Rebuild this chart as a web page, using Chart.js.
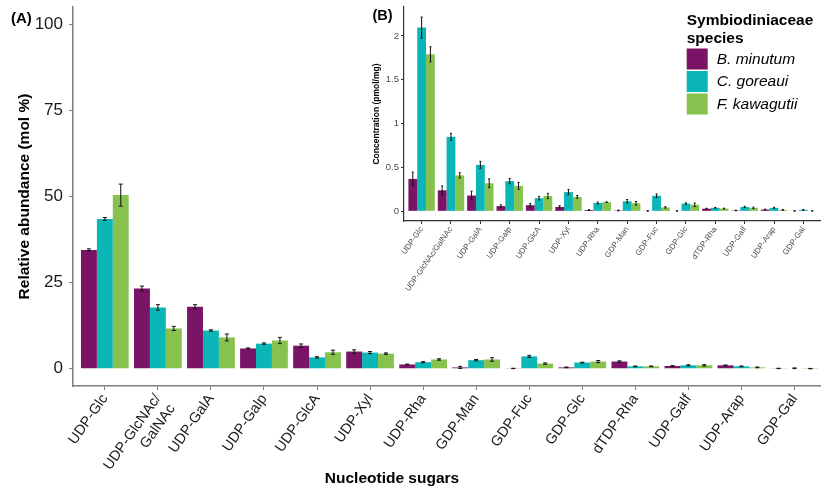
<!DOCTYPE html>
<html><head><meta charset="utf-8">
<script src="https://cdn.jsdelivr.net/npm/chart.js@4.4.0/dist/chart.umd.min.js"></script>
<style>
html,body{margin:0;padding:0;background:#fff;}
#wrap{position:relative;width:821px;height:488px;overflow:hidden;background:#fff;}
#main{position:absolute;left:0;top:0;}
#ins{position:absolute;left:360px;top:0;}
</style></head><body>
<div id="wrap">
<canvas id="main" width="821" height="488"></canvas>
<canvas id="ins" width="461" height="305"></canvas>
</div>
<script>
// ---- data ----
const categoriesMain = ['UDP-Glc', ['UDP-GlcNAc/', 'GalNAc'], 'UDP-GalA', 'UDP-Galp', 'UDP-GlcA', 'UDP-Xyl', 'UDP-Rha', 'GDP-Man', 'GDP-Fuc', 'GDP-Glc', 'dTDP-Rha', 'UDP-Galf', 'UDP-Arap', 'GDP-Gal'];
const categoriesInset = ['UDP-Glc', 'UDP-GlcNAc/GalNAc', 'UDP-GalA', 'UDP-Galp', 'UDP-GlcA', 'UDP-Xyl', 'UDP-Rha', 'GDP-Man', 'GDP-Fuc', 'GDP-Glc', 'dTDP-Rha', 'UDP-Galf', 'UDP-Arap', 'GDP-Gal'];
const seriesNames = ['B. minutum', 'C. goreaui', 'F. kawagutii'];

// (A) relative abundance, mol %
const relMinutum   = [34.5, 23.3, 18.0, 5.9, 6.7, 5.0, 1.25, 0.4, 0.1, 0.4, 2.1, 0.8, 1.0, 0.1];
const relGoreaui   = [43.5, 17.8, 11.1, 7.3, 3.3, 4.7, 1.9, 2.5, 3.6, 1.8, 0.7, 1.0, 0.7, 0.15];
const relKawagutii = [50.4, 11.7, 9.1, 8.2, 4.8, 4.4, 2.7, 2.7, 1.5, 2.1, 0.7, 1.0, 0.4, 0.05];
const relErrMinutum   = [0.3, 0.7, 0.6, 0.15, 0.5, 0.5, 0.1, 0.3, 0.05, 0.1, 0.2, 0.1, 0.1, 0.05];
const relErrGoreaui   = [0.4, 0.8, 0.2, 0.2, 0.2, 0.3, 0.15, 0.2, 0.3, 0.1, 0.1, 0.15, 0.1, 0.1];
const relErrKawagutii = [3.2, 0.6, 1.0, 0.9, 0.6, 0.2, 0.2, 0.5, 0.2, 0.3, 0.1, 0.2, 0.1, 0.05];
const yTicksMain = [0, 25, 50, 75, 100];

// (B) concentration, pmol/mg
const concMinutum   = [0.37, 0.24, 0.18, 0.06, 0.07, 0.05, 0.015, 0.01, 0.005, 0.005, 0.03, 0.01, 0.02, 0.005];
const concGoreaui   = [2.095, 0.85, 0.53, 0.345, 0.15, 0.22, 0.095, 0.115, 0.178, 0.089, 0.04, 0.05, 0.04, 0.017];
const concKawagutii = [1.79, 0.41, 0.32, 0.29, 0.175, 0.165, 0.105, 0.092, 0.045, 0.075, 0.032, 0.04, 0.017, 0.005];
const concErrMinutum   = [0.077, 0.05, 0.05, 0.015, 0.02, 0.015, 0.005, 0.005, 0.003, 0.003, 0.005, 0.003, 0.005, 0.002];
const concErrGoreaui   = [0.12, 0.04, 0.04, 0.03, 0.02, 0.03, 0.01, 0.02, 0.02, 0.008, 0.005, 0.008, 0.006, 0.004];
const concErrKawagutii = [0.086, 0.03, 0.05, 0.04, 0.03, 0.015, 0.003, 0.02, 0.008, 0.02, 0.004, 0.008, 0.004, 0.002];
const yTicksInset = [0, 0.5, 1, 1.5, 2];

// ---- styling ----
const FONT = '"Liberation Sans", Arial, Helvetica, sans-serif';
const COLORS = ['#7a1467', '#0ab6b6', '#87c24f'];

function makeDatasets(vals, errs) {
  return vals.map((v, k) => ({
    label: seriesNames[k],
    data: v.map((y, i) => ({x: i, y: y})),
    errors: errs[k],
    backgroundColor: COLORS[k],
    borderWidth: 0,
    categoryPercentage: 0.9,
    barPercentage: 1.0
  }));
}

function errorBarPlugin(cap, color, width) {
  return {
    id: 'errorBars',
    afterDatasetsDraw(chart) {
      const ctx = chart.ctx, ys = chart.scales.y;
      ctx.save();
      ctx.strokeStyle = color; ctx.lineWidth = width;
      chart.data.datasets.forEach((ds, di) => {
        const meta = chart.getDatasetMeta(di);
        meta.data.forEach((bar, i) => {
          const v = ds.data[i].y, e = ds.errors[i];
          const x = bar.x;
          const y1 = ys.getPixelForValue(v - e), y2 = ys.getPixelForValue(v + e);
          const hw = cap / 2;
          ctx.beginPath();
          ctx.moveTo(x, y1); ctx.lineTo(x, y2);
          ctx.moveTo(x - hw, y1); ctx.lineTo(x + hw, y1);
          ctx.moveTo(x - hw, y2); ctx.lineTo(x + hw, y2);
          ctx.stroke();
        });
      });
      ctx.restore();
    }
  };
}

function textPlugin(items, legend) {
  return {
    id: 'texts',
    afterDraw(chart) {
      const ctx = chart.ctx;
      ctx.save();
      items.forEach(t => {
        ctx.font = t.font; ctx.fillStyle = t.color || '#000';
        ctx.textAlign = t.align || 'left'; ctx.textBaseline = t.baseline || 'alphabetic';
        ctx.fillText(t.text, t.x, t.y);
      });
      if (legend) {
        ctx.font = 'bold 15.5px ' + FONT; ctx.fillStyle = '#000';
        ctx.textAlign = 'left'; ctx.textBaseline = 'alphabetic';
        ctx.fillText('Symbiodiniaceae', legend.x, 25);
        ctx.fillText('species', legend.x, 42.5);
        const tops = [48.5, 71, 93.5];
        seriesNames.forEach((n, k) => {
          ctx.fillStyle = COLORS[k];
          ctx.fillRect(legend.x, tops[k], 21, 21);
          ctx.fillStyle = '#000';
          ctx.font = 'italic 15.5px ' + FONT;
          ctx.textBaseline = 'middle';
          ctx.fillText(n, legend.x + 30, tops[k] + 11);
        });
      }
      ctx.restore();
    }
  };
}

// ---- main chart (A) ----
new Chart(document.getElementById('main'), {
  type: 'bar',
  data: { datasets: makeDatasets([relMinutum, relGoreaui, relKawagutii], [relErrMinutum, relErrGoreaui, relErrKawagutii]) },
  options: {
    responsive: false, animation: false, devicePixelRatio: 1,
    layout: { padding: { top: 7, right: 0, left: 0, bottom: 0 } },
    plugins: { legend: { display: false }, tooltip: { enabled: false } },
    scales: {
      x: {
        type: 'linear', min: -0.6, max: 13.5, offset: false,
        grid: { display: true, drawOnChartArea: false, drawTicks: true, tickLength: 4, color: '#7f7f7f', offset: false },
        border: { display: true, color: '#7f7f7f', width: 1.5 },
        ticks: { autoSkip: false, minRotation: 55, maxRotation: 55, padding: 1, color: '#1a1a1a',
                 font: { family: FONT, size: 14.5 }, callback: (v) => categoriesMain[v] },
        afterBuildTicks: s => { s.ticks = categoriesMain.map((_, i) => ({ value: i })); },
        afterFit: s => { s.height = 102; s.paddingLeft = 0; s.paddingRight = 0; }
      },
      y: {
        type: 'linear', min: -5, max: 105,
        grid: { display: true, drawOnChartArea: false, drawTicks: true, tickLength: 4, color: '#7f7f7f' },
        border: { display: true, color: '#7f7f7f', width: 1.5 },
        ticks: { padding: 6, color: '#1a1a1a', font: { family: FONT, size: 17 } },
        afterBuildTicks: s => { s.ticks = yTicksMain.map(v => ({ value: v })); },
        afterFit: s => { s.width = 73; s.paddingTop = 0; s.paddingBottom = 0; },
        title: { display: true, text: 'Relative abundance (mol %)', color: '#000',
                 font: { family: FONT, size: 15.5, weight: 'bold' }, padding: { top: 15, bottom: 0 } }
      }
    }
  },
  plugins: [errorBarPlugin(4, '#111', 1), textPlugin([
    { text: '(A)', x: 11, y: 22.7, font: 'bold 15px ' + FONT },
    { text: 'Nucleotide sugars', x: 392, y: 483, align: 'center', font: 'bold 15.5px ' + FONT }
  ])]
});

// ---- inset chart (B) ----
new Chart(document.getElementById('ins'), {
  type: 'bar',
  data: { datasets: makeDatasets([concMinutum, concGoreaui, concKawagutii], [concErrMinutum, concErrGoreaui, concErrKawagutii]) },
  options: {
    responsive: false, animation: false, devicePixelRatio: 1,
    layout: { padding: { top: 7, right: 0, left: 0, bottom: 0 } },
    plugins: { legend: { display: false }, tooltip: { enabled: false } },
    scales: {
      x: {
        type: 'linear', min: -0.6, max: 13.6, offset: false,
        grid: { display: true, drawOnChartArea: false, drawTicks: true, tickLength: 3, color: '#333', offset: false },
        border: { display: true, color: '#333', width: 1.2 },
        ticks: { autoSkip: false, minRotation: 55, maxRotation: 55, padding: 1, color: '#4d4d4d',
                 font: { family: FONT, size: 8 }, callback: (v) => categoriesInset[v] },
        afterBuildTicks: s => { s.ticks = categoriesInset.map((_, i) => ({ value: i })); },
        afterFit: s => { s.height = 84; s.paddingLeft = 0; s.paddingRight = 0; }
      },
      y: {
        type: 'linear', min: -0.11, max: 2.33,
        grid: { display: true, drawOnChartArea: false, drawTicks: true, tickLength: 3, color: '#333' },
        border: { display: true, color: '#333', width: 1.2 },
        ticks: { padding: 2, color: '#4d4d4d', font: { family: FONT, size: 9.5 }, callback: (v) => String(v) },
        afterBuildTicks: s => { s.ticks = yTicksInset.map(v => ({ value: v })); },
        afterFit: s => { s.width = 44; s.paddingTop = 0; s.paddingBottom = 0; },
        title: { display: true, text: 'Concentration (pmol/mg)', color: '#000',
                 font: { family: FONT, size: 8.5, weight: 'bold' }, padding: { top: 12, bottom: 0 } }
      }
    }
  },
  plugins: [errorBarPlugin(2, '#111', 1), textPlugin([
    { text: '(B)', x: 12.5, y: 19.5, font: 'bold 14.5px ' + FONT }
  ], { x: 326.7 })]
});
</script>
</body></html>
